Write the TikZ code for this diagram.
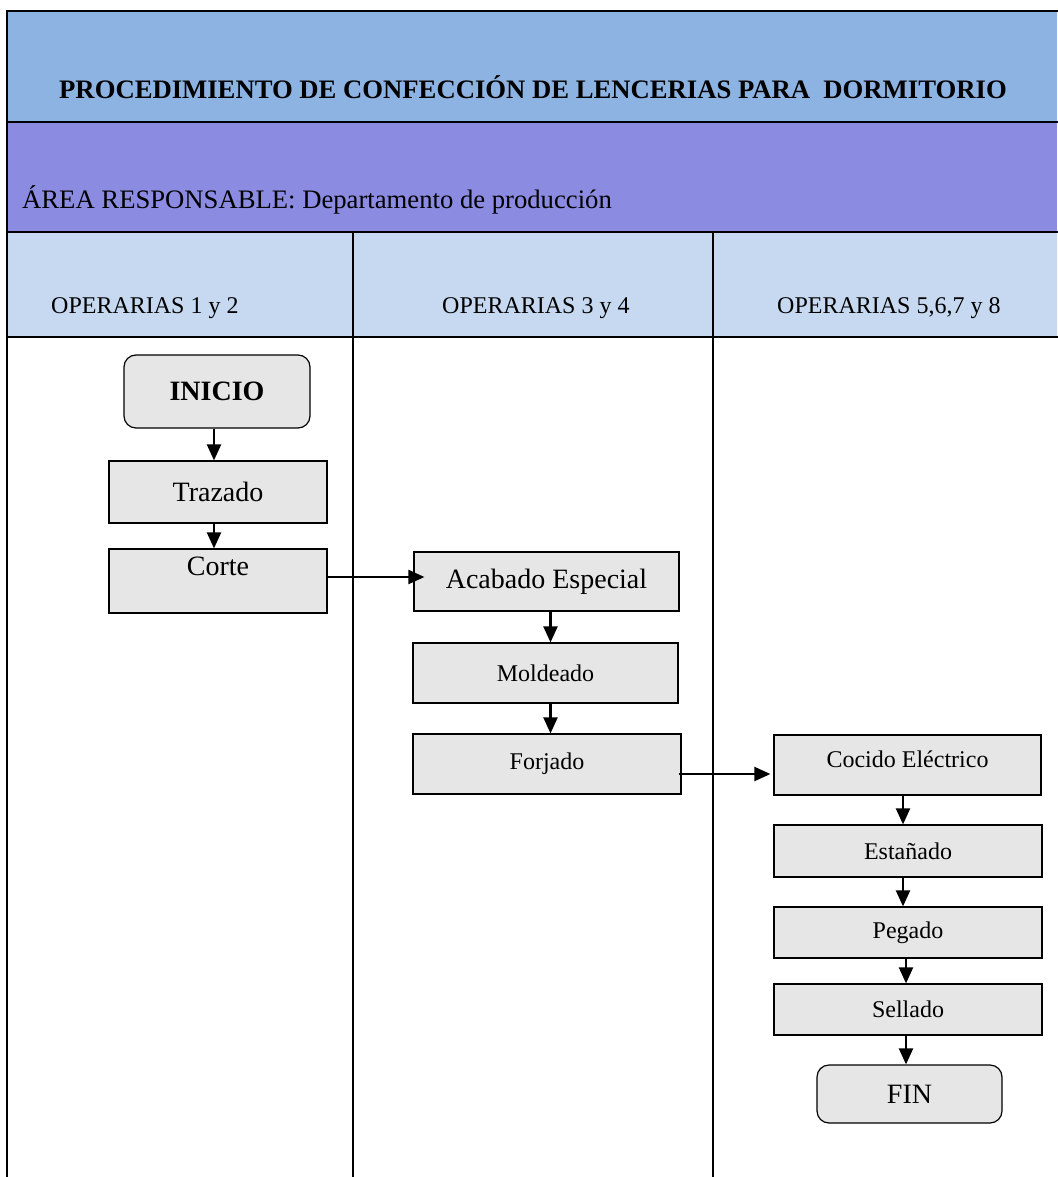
\documentclass[tikz,border=0pt]{standalone}
\usepackage{fontspec}
\setmainfont{Liberation Serif}
\usetikzlibrary{arrows.meta}

\definecolor{titleblue}{RGB}{141,179,226}
\definecolor{areapurple}{RGB}{139,139,226}
\definecolor{lanehead}{RGB}{198,217,241}
\definecolor{boxgray}{RGB}{230,230,230}

\begin{document}
\begin{tikzpicture}[x=1pt,y=-1pt,
  grid/.style={line width=2.6pt, line cap=rect},
  stepbox/.style={draw, line width=1.2pt, fill=boxgray, inner sep=0pt},
  big/.style={font=\fontsize{28}{32}\selectfont},
  small/.style={font=\fontsize{24}{28}\selectfont},
  term/.style={stepbox, rounded corners=12pt},
  arr/.style={line width=2.2pt, -{Triangle[length=16pt,width=14pt]}},
  lbl/.style={inner sep=0pt, anchor=base west}]

% page
\useasboundingbox[fill=white] (0,0) rectangle (1057,1177);

% header bands
\fill[titleblue]  (7,11)  rectangle (1057,122);
\fill[areapurple] (7,122) rectangle (1057,232);
\fill[lanehead]   (7,232) rectangle (1057,337);

% table rules
\draw[grid] (7,11) -- (1057,11);
\draw[grid] (7,122) -- (1057,122);
\draw[grid] (7,232) -- (1057,232);
\draw[grid] (7,337) -- (1057,337);
\draw[grid] (7,11) -- (7,1177);
\draw[grid] (353,232) -- (353,1177);
\draw[grid] (713,232) -- (713,1177);

% header texts
\node[lbl, font=\fontsize{26.67}{30}\selectfont\bfseries] (title) at (59,99)
  {PROCEDIMIENTO DE CONFECCIÓN DE LENCERIAS PARA~~DORMITORIO};
\node[lbl, font=\fontsize{26.67}{30}\selectfont] (area) at (22,208)
  {ÁREA RESPONSABLE: Departamento de producción};
\node[lbl, small] (lane1) at (51,313)  {OPERARIAS 1 y 2};
\node[lbl, small] (lane2) at (442,313) {OPERARIAS 3 y 4};
\node[lbl, small] (lane3) at (777,313) {OPERARIAS 5,6,7 y 8};

% lane 1
\node[term, big, font=\fontsize{28}{32}\selectfont\bfseries, minimum width=186pt, minimum height=73pt]
  (inicio) at (217,391.5) {INICIO};
\node[stepbox, big, minimum width=218pt, minimum height=62pt] (trazado) at (218,492) {Trazado};
\node[stepbox, big, minimum width=218pt, minimum height=64pt, text depth=29pt] (corte) at (218,581) {Corte};

% lane 2
\node[stepbox, big, minimum width=265pt, minimum height=59pt] (acabado) at (546.5,581.5) {Acabado Especial};
\node[stepbox, small, minimum width=265pt, minimum height=60pt] (moldeado) at (545.5,673) {Moldeado};
\node[stepbox, small, minimum width=268pt, minimum height=60pt] (forjado) at (547,764) {Forjado};

% lane 3
\node[stepbox, small, minimum width=267pt, minimum height=60pt, text depth=12pt] (cocido) at (907.5,765) {Cocido Eléctrico};
\node[stepbox, small, minimum width=268pt, minimum height=52pt] (estanado) at (908,851) {Estañado};
\node[stepbox, small, minimum width=268pt, minimum height=51pt] (pegado) at (908,932.5) {Pegado};
\node[stepbox, small, minimum width=268pt, minimum height=51pt] (sellado) at (908,1009.5) {Sellado};
\node[term, big, minimum width=185pt, minimum height=58pt] (fin) at (909.5,1094) {FIN};

% flow
\draw[arr] ([xshift=-3pt]inicio.south) -- ([xshift=-3pt]inicio.south |- trazado.north);
\draw[arr] ([xshift=-4pt]trazado.south) -- ([xshift=-4pt]trazado.south |- corte.north);
\draw[arr, shorten >=-11pt] ([yshift=4pt]corte.east) -- ([yshift=4pt]corte.east -| acabado.west);
\draw[arr] ([xshift=4pt]acabado.south) -- ([xshift=4pt]acabado.south |- moldeado.north);
\draw[arr] ([xshift=5pt]moldeado.south) -- ([xshift=5pt]moldeado.south |- forjado.north);
\draw[arr] ([xshift=-3pt,yshift=-10pt]forjado.east) -- ([xshift=-3pt,yshift=-10pt]forjado.east -| cocido.west);
\draw[arr] ([xshift=-4.5pt]cocido.south) -- ([xshift=-4.5pt]cocido.south |- estanado.north);
\draw[arr] ([xshift=-5pt]estanado.south) -- ([xshift=-5pt]estanado.south |- pegado.north);
\draw[arr] ([xshift=-2pt]pegado.south) -- ([xshift=-2pt]pegado.south |- sellado.north);
\draw[arr] ([xshift=-2pt]sellado.south) -- ([xshift=-2pt]sellado.south |- fin.north);
\end{tikzpicture}
\end{document}
